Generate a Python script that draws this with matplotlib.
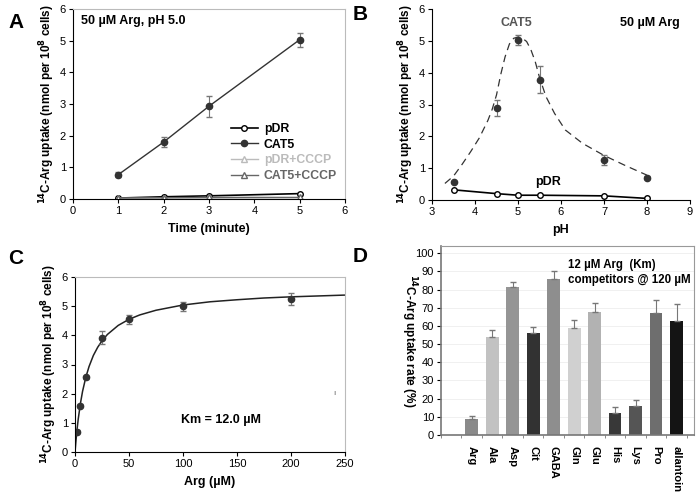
import numpy as np
import matplotlib
matplotlib.use("Agg")
import matplotlib.pyplot as plt

plt.rcParams['font.family'] = ['Liberation Sans', 'DejaVu Sans']
plt.rcParams['font.size'] = 8
plt.rcParams['xtick.major.size'] = 3
plt.rcParams['ytick.major.size'] = 3
plt.rcParams['xtick.major.pad'] = 2
plt.rcParams['ytick.major.pad'] = 2

# Panel A: time course
a_time = [1, 2, 3, 5]
a_pdr = [0.03, 0.07, 0.10, 0.17]
a_cat5 = [0.77, 1.80, 2.93, 5.03]
a_cat5_err = [0.07, 0.15, 0.33, 0.22]
a_pdr_cccp = [0.02, 0.03, 0.03, 0.04]
a_cat5_cccp = [0.03, 0.04, 0.05, 0.05]

# Panel B: pH dependence
b_ph = [3.5, 4.5, 5.0, 5.5, 7.0, 8.0]
b_cat5 = [0.57, 2.90, 5.03, 3.78, 1.25, 0.70]
b_cat5_err = [0.0, 0.25, 0.15, 0.42, 0.15, 0.05]
b_pdr = [0.32, 0.20, 0.15, 0.15, 0.13, 0.05]
# dashed fit line
b_fit_x = [3.3, 3.5, 3.7, 3.9, 4.1, 4.3, 4.4, 4.5, 4.6, 4.7, 4.8, 4.9, 5.0, 5.1, 5.2, 5.3,
           5.4, 5.5, 5.65, 5.85, 6.1, 6.5, 7.0, 7.5, 8.0]
b_fit_y = [0.52, 0.75, 1.12, 1.52, 1.95, 2.5, 2.85, 3.3, 3.95, 4.5, 4.9, 5.08, 5.12, 5.08, 4.98, 4.72,
           4.35, 3.85, 3.25, 2.72, 2.2, 1.78, 1.4, 1.08, 0.78]

# Panel C: kinetics
c_arg = [2, 5, 10, 25, 50, 100, 200]
c_uptake = [0.70, 1.58, 2.57, 3.92, 4.55, 5.00, 5.25]
c_err = [0.05, 0.05, 0.05, 0.22, 0.15, 0.15, 0.20]
c_fit_x = [0, 1, 2, 3, 5, 7, 10, 13, 17, 21, 25, 30, 40, 50, 60, 75, 100, 125, 150, 175, 200, 225, 250]
c_fit_y = [0, 0.43, 0.81, 1.13, 1.66, 2.08, 2.56, 2.93, 3.31, 3.59, 3.81, 4.03, 4.34, 4.55, 4.70, 4.86,
           5.04, 5.15, 5.22, 5.28, 5.32, 5.35, 5.38]

# Panel D: competition
d_names = ['Arg', 'Ala', 'Asp', 'Cit', 'GABA', 'Gln', 'Glu', 'His', 'Lys', 'Pro', 'allantoin']
d_rate = [9, 54, 81.5, 56, 86, 59, 67.5, 12, 16, 67, 63]
d_err = [1.5, 4, 2.5, 3.5, 4.5, 4.5, 5, 3.5, 3.5, 7.5, 9]
d_colors = ['#8a8a8a', '#c2c2c2', '#959595', '#323232', '#8e8e8e', '#d0d0d0',
            '#b2b2b2', '#383838', '#555555', '#6e6e6e', '#141414']

W, H = 696, 497
fig = plt.figure(figsize=(W / 100, H / 100), dpi=100)


def box(l, t, r, b):
    return [l / W, 1 - b / H, (r - l) / W, (b - t) / H]


ylab = r'$\mathbf{^{14}}$C-Arg uptake (nmol per 10$\mathbf{^{8}}$ cells)'

# ---- A ----
axA = fig.add_axes(box(73, 9, 345, 199))
h1, = axA.plot(a_time, a_pdr, '-o', color='black', mfc='white', ms=4, lw=1.2)
h2 = axA.errorbar(a_time, a_cat5, yerr=a_cat5_err, fmt='-o', color='#333333', ms=4.5, lw=1,
                  ecolor='#777777', elinewidth=0.8, capsize=2.5)
h3, = axA.plot(a_time, a_pdr_cccp, '-^', color='#bbbbbb', mfc='white', ms=4, lw=1)
h4, = axA.plot(a_time, a_cat5_cccp, '-^', color='#666666', mfc='white', ms=4, lw=1)
axA.set_xlim(0, 6)
axA.set_ylim(0, 6)
axA.set_xlabel('Time (minute)', fontweight='bold', fontsize=9, labelpad=5)
axA.set_ylabel(ylab, fontweight='bold', fontsize=8.5, labelpad=2)
axA.text(0.03, 0.935, '50 µM Arg, pH 5.0', transform=axA.transAxes, fontweight='bold', fontsize=9, va='center')
leg = axA.legend([h1, h2[0], h3, h4], ['pDR', 'CAT5', 'pDR+CCCP', 'CAT5+CCCP'],
                 loc='center left', bbox_to_anchor=(0.54, 0.245), frameon=False, handlelength=2.2,
                 handletextpad=0.5, labelspacing=0.3, prop={'weight': 'bold', 'size': 8.8})
for txt, c in zip(leg.get_texts(), ['black', 'black', '#bbbbbb', '#666666']):
    txt.set_color(c)
for s in ['top', 'right']:
    axA.spines[s].set_color('#bbbbbb')

# ---- B ----
axB = fig.add_axes(box(432, 9, 690, 200))
axB.plot(b_fit_x, b_fit_y, '--', color='#333333', lw=0.9, dashes=(6, 4))
axB.errorbar(b_ph, b_cat5, yerr=b_cat5_err, fmt='o', color='#333333', ms=4.5,
             ecolor='#777777', elinewidth=0.8, capsize=2.5)
axB.plot(b_ph, b_pdr, '-o', color='black', mfc='white', ms=4, lw=1.2)
axB.set_xlim(3, 9)
axB.set_ylim(0, 6)
axB.set_xlabel('pH', fontweight='bold', fontsize=9, labelpad=5)
axB.set_ylabel(ylab, fontweight='bold', fontsize=8.5, labelpad=2)
axB.text(4.97, 5.55, 'CAT5', fontweight='bold', fontsize=9, color='#555555', ha='center', va='center')
axB.text(5.7, 0.55, 'pDR', fontweight='bold', fontsize=9, ha='center', va='center')
axB.text(8.75, 5.55, '50 µM Arg', fontweight='bold', fontsize=9, ha='right', va='center')
for s in ['top', 'right']:
    axB.spines[s].set_visible(False)

# ---- C ----
axC = fig.add_axes(box(75, 277, 345, 452))
axC.plot(c_fit_x, c_fit_y, '-', color='#222222', lw=1.1)
axC.errorbar(c_arg, c_uptake, yerr=c_err, fmt='o', color='#333333', ms=4.5,
             ecolor='#777777', elinewidth=0.8, capsize=2.5)
axC.set_xlim(0, 250)
axC.set_ylim(0, 6)
axC.set_xlabel('Arg (µM)', fontweight='bold', fontsize=9, labelpad=5)
axC.set_ylabel(ylab, fontweight='bold', fontsize=8.5, labelpad=2)
axC.text(135, 1.1, 'Km = 12.0 µM', fontweight='bold', fontsize=9, ha='center', va='center')
axC.text(240, 2.0, 'ı', fontsize=6, color='#666666', ha='center', va='center')
for s in ['top', 'right']:
    axC.spines[s].set_color('#bbbbbb')

# ---- D ----
axD = fig.add_axes(box(441, 246, 694, 435))
pos = np.arange(len(d_names))
axD.bar(pos, d_rate, width=0.62, color=d_colors, zorder=2)
axD.errorbar(pos, d_rate, yerr=[np.zeros(len(d_err)), d_err], fmt='none', ecolor='#777777',
             elinewidth=0.8, capsize=2.5, zorder=3)
axD.set_xlim(-1.3, 10.85)
axD.set_ylim(0, 104)
axD.set_yticks(range(0, 101, 10))
axD.yaxis.grid(True, color='#eeeeee', lw=0.6, zorder=0)
axD.set_xticks(pos)
axD.set_xticklabels(d_names, rotation=-90, fontweight='bold', fontsize=8.5)
axD.tick_params(axis='x', length=0, pad=8)
axD.set_xticks(np.arange(-1.5, 11, 1.0), minor=True)
axD.tick_params(axis='x', which='minor', length=2.5, color='#777777')
axD.set_ylabel(r'$\mathbf{^{14}}$C-Arg uptake rate (%)', fontweight='bold', fontsize=8.5,
               rotation=-90, labelpad=12)
axD.text(0.5, 0.93, '12 µM Arg  (Km)\ncompetitors @ 120 µM', transform=axD.transAxes,
         fontweight='bold', fontsize=8.3, va='top', linespacing=1.3)
for s in ['top', 'right']:
    axD.spines[s].set_color('#999999')
for s in ['left', 'bottom']:
    axD.spines[s].set_color('#777777')
    axD.spines[s].set_linewidth(1.2)

for ax in [axA, axB, axC, axD]:
    ax.tick_params(labelsize=8)
    ax.set_axisbelow(True)

# panel letters
for letter, x, y in [('A', 16, 22), ('B', 360, 14), ('C', 16, 259), ('D', 360, 256)]:
    fig.text(x / W, 1 - y / H, letter, fontsize=15, fontweight='bold', ha='center', va='center')

fig.savefig('out.png', dpi=100)
